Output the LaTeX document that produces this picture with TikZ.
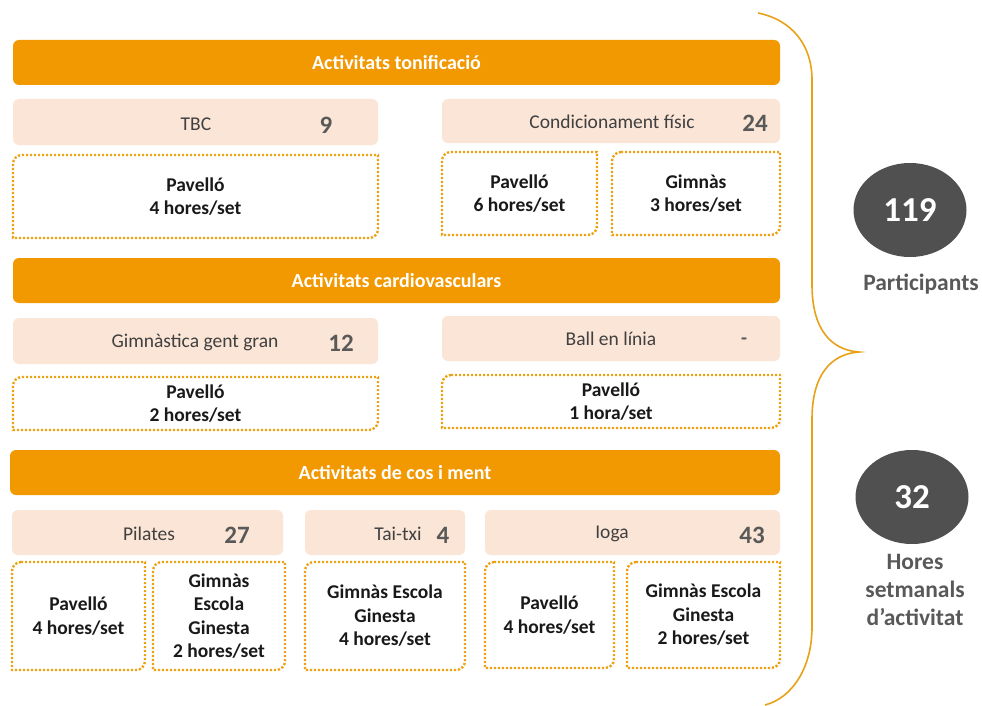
\documentclass[tikz,border=0pt]{standalone}
\usepackage{fontspec}
\setmainfont{Carlito}
\usetikzlibrary{shapes.geometric}
\definecolor{hdrorange}{RGB}{242,152,0}
\definecolor{peach}{RGB}{251,229,214}
\definecolor{dotcol}{RGB}{236,162,18}
\definecolor{bracecol}{RGB}{232,162,24}
\definecolor{discfill}{RGB}{80,80,80}
\definecolor{numgray}{RGB}{89,89,89}
\definecolor{labgray}{RGB}{64,64,64}
\definecolor{boxtext}{RGB}{25,25,25}
\tikzset{
  hdr/.style={fill=hdrorange, rounded corners=6pt, inner sep=0pt, outer sep=0pt,
    text=white, font=\fontsize{20}{24}\selectfont\bfseries},
  cat/.style={fill=peach, rounded corners=6pt, inner sep=0pt, outer sep=0pt},
  catlab/.style={text=labgray, inner sep=0pt, font=\fontsize{19.5}{23.5}\selectfont},
  catnum/.style={text=numgray, inner sep=0pt, font=\fontsize{25}{28}\selectfont\bfseries},
  place/.style={inner sep=0pt, outer sep=0pt, align=center, text=boxtext,
    font=\fontsize{19.5}{23.5}\selectfont\bfseries},
  dotline/.style={draw=dotcol, line width=2.4pt, dash pattern=on 2.2pt off 1.8pt},
  disc/.style={ellipse, fill=discfill, inner sep=0pt, text=white,
    minimum width=113pt, minimum height=94pt, font=\fontsize{35}{40}\selectfont\bfseries},
  sidelab/.style={text=numgray, align=center, inner sep=0pt,
    font=\fontsize{23.5}{28}\selectfont\bfseries},
  bracestyle/.style={draw=bracecol, line width=1.6pt}
}
% #1 style, #2 name, #3 x1, #4 y1, #5 x2, #6 y2, #7 text
\newcommand{\pbox}[7]{%
  \node[#1, minimum width={#5-#3}, minimum height={#6-#4}] (#2) at ({(#3+#5)/2},{(#4+#6)/2}) {#7};}
\newcommand{\diagborder}[1]{%
  \draw[dotline] ([xshift=9pt]#1.north west) -- (#1.north east) -- ([yshift=9pt]#1.south east)
    .. controls ([yshift=4pt]#1.south east) and ([xshift=-4pt]#1.south east) .. ([xshift=-9pt]#1.south east)
    -- (#1.south west) -- ([yshift=-9pt]#1.north west)
    .. controls ([yshift=-4pt]#1.north west) and ([xshift=4pt]#1.north west) .. ([xshift=9pt]#1.north west) -- cycle;}
\begin{document}
\begin{tikzpicture}[x=1pt,y=-1pt]
\useasboundingbox (0,0) rectangle (982,706);
\fill[white] (0,0) rectangle (982,706);

% headers
\pbox{hdr}{h1}{13}{40}{780}{85}{Activitats tonificació}
\pbox{hdr}{h2}{13}{258}{780}{303}{Activitats cardiovasculars}
\pbox{hdr}{h3}{10}{450}{780}{495}{Activitats de cos i ment}

% category boxes
\pbox{cat}{c1}{13}{99}{378}{145}{}
\pbox{cat}{c2}{442}{99}{780}{143}{}
\pbox{cat}{c3}{13}{318}{378}{364}{}
\pbox{cat}{c4}{442}{316}{780}{361}{}
\pbox{cat}{c5}{12}{510}{283}{555}{}
\pbox{cat}{c6}{305}{510}{465}{555}{}
\pbox{cat}{c7}{485}{510}{780}{555}{}

\node[catlab] (l1) at (196,124) {TBC};
\node[catnum] (n1) at (326,125) {9};
\node[catlab] (l2) at (612,122) {Condicionament físic};
\node[catnum] (n2) at (755,123) {24};
\node[catlab] (l3) at (195,342) {Gimnàstica gent gran};
\node[catnum] (n3) at (341,343) {12};
\node[catlab] (l4) at (611,339) {Ball en línia};
\node[catnum, font=\fontsize{19.5}{23.5}\selectfont\bfseries] (n4) at (744,341) {-};
\node[catlab] (l5) at (149,534) {Pilates};
\node[catnum] (n5) at (237,535) {27};
\node[catlab] (l6) at (398,534) {Tai-txi};
\node[catnum] (n6) at (443,535) {4};
\node[catlab] (l7) at (612,534) {Ioga};
\node[catnum] (n7) at (752,535) {43};

% place boxes
\pbox{place}{d1}{13}{155}{378}{238}{Pavelló\\4 hores/set}
\pbox{place}{d2}{442}{152}{597}{235}{Pavelló\\6 hores/set}
\pbox{place}{d3}{612}{152}{780}{235}{Gimnàs\\3 hores/set}
\pbox{place}{d4}{13}{377}{378}{430}{Pavelló\\2 hores/set}
\pbox{place}{d5}{442}{375}{780}{428}{Pavelló\\1 hora/set}
\pbox{place}{d6}{12}{562}{145}{670}{Pavelló\\4 hores/set}
\pbox{place}{d7}{153}{562}{285}{670}{Gimnàs\\Escola\\Ginesta\\2 hores/set}
\pbox{place}{d8}{305}{562}{465}{670}{Gimnàs Escola\\Ginesta\\4 hores/set}
\pbox{place}{d9}{485}{562}{614}{668}{Pavelló\\4 hores/set}
\pbox{place}{d10}{627}{562}{780}{668}{Gimnàs Escola\\Ginesta\\2 hores/set}
\foreach \b in {d1,d2,d3,d4,d5,d6,d7,d8,d9,d10} {\diagborder{\b}}

% brace
\coordinate (bA) at (758,13);
\coordinate (bB) at (812,80);
\coordinate (bC) at (812,285);
\coordinate (bTip) at (859,352);
\coordinate (bD) at (812,419);
\coordinate (bE) at (812,627);
\coordinate (bF) at (765,705);
\draw[bracestyle] (bA) .. controls (792,20) and (812,45) .. (bB) -- (bC)
  .. controls (812,328) and (830,350) .. (bTip)
  .. controls (830,354) and (812,376) .. (bD) -- (bE)
  .. controls (812,668) and (792,698) .. (bF);

% summary discs
\node[disc] (e1) at (910,210) {119};
\node[sidelab] (p1) at (921,284) {Participants};
\node[disc] (e2) at (912,497) {32};
\node[sidelab] (p2) at (915,590) {Hores\\setmanals\\d’activitat};
\end{tikzpicture}
\end{document}
